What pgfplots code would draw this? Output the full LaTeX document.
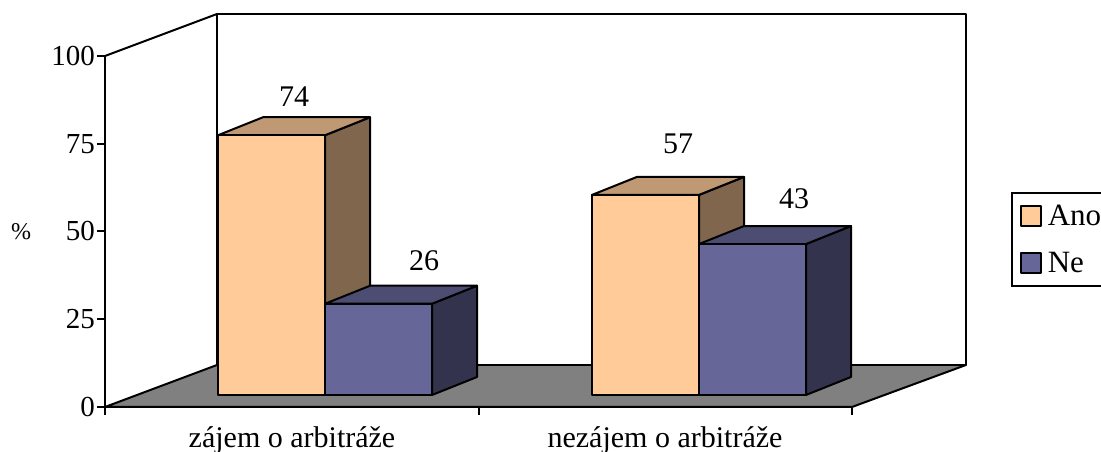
\documentclass[border=0pt]{standalone}
\usepackage{pgfplots}
\usepackage{fontspec}
\setmainfont{Liberation Serif}
\pgfplotsset{compat=1.18}
\definecolor{ano}{HTML}{FFCC99}
\definecolor{anotop}{HTML}{BF9973}
\definecolor{anoside}{HTML}{80664D}
\definecolor{ne}{HTML}{666699}
\definecolor{netop}{HTML}{4D4D73}
\definecolor{neside}{HTML}{33334D}
\newcommand{\lab}{\fontsize{29}{32}\selectfont}
\newcommand{\labb}{\fontsize{30}{33}\selectfont}
\pgfplotsset{
  base/.style={
    scale only axis, width=747pt, height=351pt,
    at={(105pt,45pt)}, anchor=south west,
    xmin=105, xmax=852, clip=false,
    every axis plot/.append style={line width=2pt, line join=round},
  },
  face/.style={fill=#1, draw=black, forget plot, mark=none},
}
\begin{document}
\begin{tikzpicture}
\useasboundingbox (0,0) rectangle (1101pt,452pt);
% floor, back wall and the axis with its ticks
\begin{axis}[base,
  ymin=0, ymax=100,
  axis x line*=bottom, axis y line*=left,
  axis line style={line width=2pt,-},
  tick style={line width=2pt, black},
  major tick length=8pt,
  tick align=outside,
  ytick={0,25,50,75,100},
  xtick={105,479,852}, xticklabels={,,},
  extra x ticks={292,665},
  extra x tick labels={zájem o arbitráže,nezájem o arbitráže},
  extra x tick style={major tick length=0pt, tick style={draw=none},
    every tick label/.append style={yshift=-16pt, font=\labb}},
  tick label style={font=\lab},
  yticklabel style={xshift=1.5pt},
  /pgf/number format/assume math mode=true,
]
\addplot[face=gray] coordinates {(105,0)(217,11.97)(966,11.97)(852,0)} -- cycle;
\addplot[face=white] coordinates {(217,11.97)(217,111.97)(966,111.97)(966,11.97)} -- cycle;
\addplot[draw=black, forget plot, mark=none] coordinates {(105,100)(217,111.97)};
\node at (axis cs:21,50) {\fontsize{24}{26}\selectfont\%};
\end{axis}
% bars: y axis starts below zero because the bars stand on the floor
\begin{axis}[base,
  ymin=-3.42, ymax=96.58,
  hide axis,
  legend style={
    at={(axis cs:1011,57.8)}, anchor=north west,
    line width=2pt, draw=black,
    inner xsep=8pt, inner ysep=12pt,
    row sep=25pt,
    font=\fontsize{31}{33}\selectfont,
    nodes={anchor=west, inner xsep=6pt, inner ysep=0pt, text width=70pt},
  },
  legend cell align=left,
  legend image code/.code={
    \draw[#1, line width=1.8pt] (0pt,-10pt) rectangle (20pt,10pt);
  },
]
% zajem, Ano
\addplot[face=anoside] coordinates {(325,0)(370,5.13)(370,79.13)(325,74)} -- cycle;
\addplot[face=anotop] coordinates {(218,74)(263,79.13)(370,79.13)(325,74)} -- cycle;
\addplot[face=ano] coordinates {(218,0)(218,74)(325,74)(325,0)} -- cycle;
% zajem, Ne
\addplot[face=neside] coordinates {(432,0)(477,5.13)(477,31.13)(432,26)} -- cycle;
\addplot[face=netop] coordinates {(325,26)(370,31.13)(477,31.13)(432,26)} -- cycle;
\addplot[face=ne] coordinates {(325,0)(325,26)(432,26)(432,0)} -- cycle;
% nezajem, Ano
\addplot[face=anoside] coordinates {(699,0)(744,5.13)(744,62.13)(699,57)} -- cycle;
\addplot[face=anotop] coordinates {(592,57)(637,62.13)(744,62.13)(699,57)} -- cycle;
\addplot[face=ano] coordinates {(592,0)(592,57)(699,57)(699,0)} -- cycle;
% nezajem, Ne
\addplot[face=neside] coordinates {(806,0)(851,5.13)(851,48.13)(806,43)} -- cycle;
\addplot[face=netop] coordinates {(699,43)(744,48.13)(851,48.13)(806,43)} -- cycle;
\addplot[face=ne] coordinates {(699,0)(699,43)(806,43)(806,0)} -- cycle;
\addlegendimage{fill=ano, draw=black}
\addlegendentry{Ano}
\addlegendimage{fill=ne, draw=black}
\addlegendentry{Ne}
\node[font=\labb] at (axis cs:294,84.9) {74};
\node[font=\labb] at (axis cs:424,38.2) {26};
\node[font=\labb] at (axis cs:678,71.5) {57};
\node[font=\labb] at (axis cs:794,56) {43};
\end{axis}
\end{tikzpicture}
\end{document}
